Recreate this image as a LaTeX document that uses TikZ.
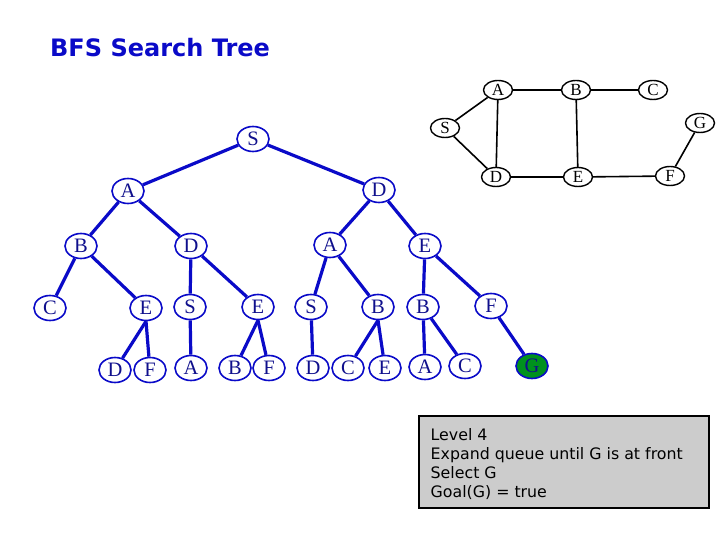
\documentclass[tikz,border=0pt]{standalone}
\usepackage{fontspec}
\setmainfont{Liberation Serif}
\newfontfamily\titlefont{DejaVu Sans}
\newfontfamily\boxfont{DejaVu Sans}
\usetikzlibrary{shapes.geometric,backgrounds}
\definecolor{treeblue}{RGB}{10,10,200}
\definecolor{textblue}{RGB}{15,15,140}
\definecolor{goalgreen}{RGB}{0,145,30}
\definecolor{boxgray}{RGB}{204,204,204}
\tikzset{
  tn/.style={ellipse, draw=treeblue, line width=1.6pt, fill=white, minimum width=32pt, minimum height=25pt, inner sep=0pt, text=textblue, font=\fontsize{20.5}{20.5}\selectfont},
  te/.style={draw=treeblue, line width=3.2pt},
  gn/.style={ellipse, draw=black, line width=1.4pt, fill=white, minimum width=29pt, minimum height=19pt, inner sep=0pt, font=\fontsize{17}{17}\selectfont},
  ge/.style={draw=black, line width=1.6pt},
}
\begin{document}
\begin{tikzpicture}[x=1pt,y=-1pt]
\useasboundingbox (0,0) rectangle (720,540);
\node[anchor=base west, inner sep=0pt, text=treeblue, font=\titlefont\bfseries\fontsize{24}{24}\selectfont] (title) at (50,57) {BFS Search Tree};

% graph
\node[gn] (gA) at (498,90) {A};
\node[gn] (gB) at (576,90) {B};
\node[gn] (gC) at (653,90) {C};
\node[gn] (gS) at (445,128) {S};
\node[gn] (gG) at (700,123) {G};
\node[gn] (gD) at (496,177) {D};
\node[gn] (gE) at (578,177) {E};
\node[gn] (gF) at (670,176) {F};

% tree nodes
\node[tn] (s0) at (253,139) {S};
\node[tn] (a1) at (128,191) {A};
\node[tn] (d1) at (379,190) {D};
\node[tn] (b2) at (81,246) {B};
\node[tn] (d2) at (191,246) {D};
\node[tn] (a2) at (330,245) {A};
\node[tn] (e2) at (425,246) {E};
\node[tn] (c3) at (50,308) {C};
\node[tn] (e3a) at (146,308) {E};
\node[tn] (s3a) at (190,307) {S};
\node[tn] (e3b) at (258,307) {E};
\node[tn] (s3b) at (311,307) {S};
\node[tn] (b3a) at (378,307) {B};
\node[tn] (b3b) at (423,307) {B};
\node[tn] (f3) at (491,306) {F};
\node[tn] (d4a) at (115,370) {D};
\node[tn] (f4a) at (150,370) {F};
\node[tn] (a4a) at (191,368) {A};
\node[tn] (b4) at (235,368) {B};
\node[tn] (f4b) at (269,368) {F};
\node[tn] (d4b) at (313,368) {D};
\node[tn] (c4a) at (348,368) {C};
\node[tn] (e4) at (385,368) {E};
\node[tn] (a4b) at (425,367) {A};
\node[tn] (c4b) at (465,366) {C};
\node[tn, fill=goalgreen] (g4) at (532,366) {G};

\begin{scope}[on background layer]
% graph edges
\draw[ge] (gS) -- (gA);
\draw[ge] (gS) -- (gD);
\draw[ge] (gA) -- (gB);
\draw[ge] (gB) -- (gC);
\draw[ge] (gA) -- (gD);
\draw[ge] (gB) -- (gE);
\draw[ge] (gD) -- (gE);
\draw[ge] (gE) -- (gF);
\draw[ge] (gF) -- (gG);

% tree edges
\draw[te] (s0) -- (a1);
\draw[te] (s0) -- (d1);
\draw[te] (a1) -- (b2);
\draw[te] (a1) -- (d2);
\draw[te] (d1) -- (a2);
\draw[te] (d1) -- (e2);
\draw[te] (b2) -- (c3);
\draw[te] (b2) -- (e3a);
\draw[te] (d2) -- (s3a);
\draw[te] (d2) -- (e3b);
\draw[te] (a2) -- (s3b);
\draw[te] (a2) -- (b3a);
\draw[te] (e2) -- (b3b);
\draw[te] (e2) -- (f3);
\draw[te] (e3a.south) -- (d4a);
\draw[te] (e3a.south) -- (f4a);
\draw[te] (s3a) -- (a4a);
\draw[te] (e3b.south) -- (b4);
\draw[te] (e3b.south) -- (f4b);
\draw[te] (s3b) -- (d4b);
\draw[te] (b3a.south) -- (c4a);
\draw[te] (b3a.south) -- (e4);
\draw[te] (b3b) -- (a4b);
\draw[te] (b3b) -- (c4b);
\draw[te] (f3) -- (g4);
\end{scope}

% text box
\node[draw=black, line width=1.6pt, fill=boxgray, minimum width=290pt, minimum height=92pt, anchor=north west, inner sep=0pt] (box) at (418.3,415.3) {};
\node[anchor=north west, inner sep=0pt, align=left, font=\boxfont\fontsize{15.8}{19}\selectfont] (boxtext) at (430.5,428.5) {Level 4\\Expand queue until G is at front\\Select G\\Goal(G) = true};
\end{tikzpicture}
\end{document}
